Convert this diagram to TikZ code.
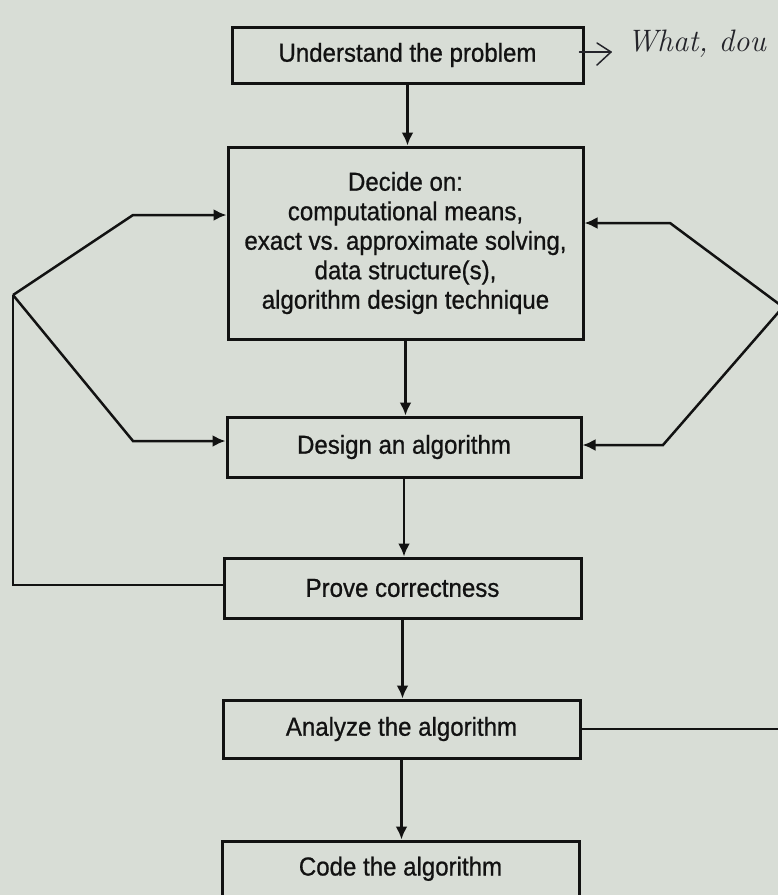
\documentclass[tikz,border=0pt]{standalone}
\usepackage{fontspec}
\newfontfamily\boxfont{Liberation Sans}[FakeBold=0.8,FakeStretch=0.925]
\usetikzlibrary{arrows.meta}
\definecolor{paper}{RGB}{216,221,214}
\definecolor{ink}{RGB}{18,18,18}
\definecolor{pen}{RGB}{36,36,42}
\begin{document}
\begin{tikzpicture}[x=1pt,y=-1pt,
  stepbox/.style={draw=ink, line width=3pt, rectangle, inner sep=0pt,
    text=ink, font=\boxfont\fontsize{26}{29.5}\selectfont, align=center},
  flow/.style={draw=ink, line width=2.5pt, line join=miter,
    -{Latex[length=13pt,width=12pt]}},
  link/.style={draw=ink, line width=2.5pt, line join=miter},
  note/.style={draw=pen, line width=1.5pt, line cap=round, line join=round}]
% page
\fill[paper] (0,0) rectangle (778,895);
\useasboundingbox (0,0) rectangle (778,895);
\clip (0,0) rectangle (778,895);

% steps
\node[stepbox, minimum width=351pt, minimum height=56pt] (understand) at (407.5,55) {Understand the problem};
\node[stepbox, minimum width=355pt, minimum height=192pt] (decide) at (405.5,243)
  {Decide on:\\computational means,\\exact vs.\ approximate solving,\\data structure(s),\\algorithm design technique};
\node[stepbox, minimum width=354pt, minimum height=60pt] (design) at (404,447) {Design an algorithm};
\node[stepbox, minimum width=357pt, minimum height=60pt] (prove) at (402.5,588) {Prove correctness};
\node[stepbox, minimum width=357pt, minimum height=58pt] (analyze) at (401.5,729) {Analyze the algorithm};
\node[stepbox, minimum width=357pt, minimum height=64pt, text height=20pt, text depth=15pt] (code) at (400.5,873) {Code the algorithm};

% main sequence
\draw[flow] (understand.south) -- (understand.south |- decide.north);
\draw[flow] (decide.south) -- (decide.south |- design.north);
\draw[flow] (design.south) -- (design.south |- prove.north);
\draw[flow] (prove.south) -- (prove.south |- analyze.north);
\draw[flow] (analyze.south) -- (analyze.south |- code.north);

% feedback on the left
\coordinate (lv) at (13,295);
\coordinate (lup) at (133,215);
\coordinate (llo) at (133,441);
\draw[link] ([yshift=3pt]prove.west) -| (lv);
\draw[flow] (lv) -- (lup) -- (lup -| decide.west);
\draw[flow] (lv) -- (llo) -- (llo -| design.west);

% feedback on the right
\coordinate (rv) at (783,307);
\coordinate (rup) at (670,223);
\coordinate (rlo) at (663,445);
\draw[link] (analyze.east) -| (rv);
\draw[flow] (rv) -- (rup) -- (rup -| decide.east);
\draw[flow] (rv) -- (rlo) -- (rlo -| design.east);

% pencil note
\coordinate (tip) at (611,52);
\draw[note] ([xshift=-5pt,yshift=3pt]understand.east) -- (tip);
\draw[note] (tip) ++(-14,-9) -- (tip) -- ++(-14,13);
\node[anchor=base west, inner sep=0pt, text=pen, font=\fontsize{31}{31}\itshape] (hand) at (627,51) {What, dou};
\end{tikzpicture}
\end{document}
